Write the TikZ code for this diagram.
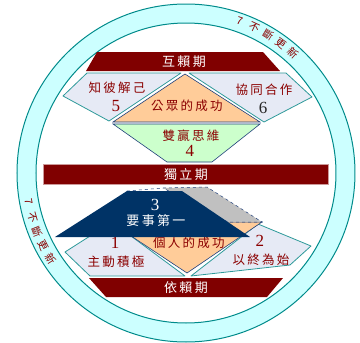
\documentclass[tikz,border=0pt]{standalone}
\usepackage{fontspec}
\setmainfont{Liberation Serif}
\newfontfamily\cjk[LetterSpace=18]{Noto Sans CJK TC}
\newfontfamily\cjkarc{Noto Sans CJK TC}
\usepackage{xcolor}
\definecolor{RINGFILL}{HTML}{CCFFFF}
\definecolor{RINGLINE}{HTML}{008B8B}
\definecolor{BANDCOLOR}{HTML}{800000}
\definecolor{PANEFILL}{HTML}{E6EAF5}
\definecolor{PANELINE}{HTML}{2E9A9A}
\definecolor{SUCCESSFILL}{HTML}{FFCC99}
\definecolor{WINFILL}{HTML}{CCFFCC}
\definecolor{EDGECOLOR}{HTML}{1F3F7A}
\definecolor{FIRSTCOLOR}{HTML}{003366}
\definecolor{GHOSTCOLOR}{HTML}{C0C0C0}
\definecolor{LABELCOLOR}{HTML}{8B0000}
\usetikzlibrary{positioning}
\tikzset{
  ring-style/.style = {
    draw=RINGLINE, fill=RINGFILL, line width=1pt, even odd rule
  },
  band-style/.style = {
    fill=BANDCOLOR
  },
  pane-style/.style = {
    draw=PANELINE, fill=PANEFILL, line width=0.8pt, line join=round
  },
  success-style/.style = {
    draw=EDGECOLOR, fill=SUCCESSFILL, line width=0.6pt
  },
  win-style/.style = {
    draw=EDGECOLOR, fill=WINFILL, line width=0.6pt
  },
  ghost-style/.style = {
    draw=EDGECOLOR, fill=GHOSTCOLOR, dashed, line width=0.5pt
  },
  first-style/.style = {
    fill=FIRSTCOLOR
  },
  band-text/.style = {
    text=white, inner sep=0pt, font=\cjk\fontsize{13}{13}\selectfont
  },
  label-text/.style = {
    text=#1, inner sep=0pt, font=\cjk\fontsize{12.5}{13}\selectfont
  },
  label-text/.default = LABELCOLOR,
  num-text/.style = {
    text=#1, inner sep=0pt, font=\fontsize{17}{17}\selectfont
  },
  num-text/.default = LABELCOLOR,
  arc-text/.style = {
    text=LABELCOLOR, inner sep=0pt, font=\cjkarc\fontsize{10.5}{11}\selectfont
  }
}
\newcommand\renewLetters{7,不,斷,更,新}

\begin{document}
\begin{tikzpicture}[x=1pt, y=-1pt]
  \useasboundingbox (0,0) rectangle (360,343);

  % ring
  \path[ring-style] (186,173) circle [radius=169]
                    (186,173) circle [radius=150];
  \foreach \ch [count=\i from 0] in \renewLetters {
    \pgfmathsetmacro\t{70.5-5.6*\i}
    \node[arc-text, rotate=\t-90] (renew-top-\i)
      at ({186+161*cos(\t)}, {173-161*sin(\t)}) {\ch};
  }
  \foreach \ch [count=\i from 0] in \renewLetters {
    \pgfmathsetmacro\t{190.5+5.5*\i}
    \node[arc-text, rotate=\t+90] (renew-left-\i)
      at ({186+160*cos(\t)}, {173-160*sin(\t)}) {\ch};
  }

  % upper half
  \fill[band-style] (97,52) -- (263,52) -- (280,71) -- (86,71) -- cycle;
  \node[band-text] (mutual) at (184,61.5) {互賴期};

  \draw[pane-style] (87,73) -- (181,73) -- (109,121) -- (63,96) -- cycle;
  \draw[pane-style] (189,73) -- (286,73) -- (312,97) -- (264,122) -- cycle;
  \draw[success-style] (185,74) -- (260,122) -- (113,122) -- cycle;
  \draw[win-style] (113,124) -- (260,124) -- (212,162) -- (167,162) -- cycle;

  \node[label-text] (know) at (117,88) {知彼解己};
  \node[num-text] (five) at (116,106) {5};
  \node[label-text] (synergy) at (264,90) {協同合作};
  \node[num-text=black!85] (six) at (263,108) {6};
  \node[label-text] (public) at (187,106) {公眾的成功};
  \node[label-text] (winwin) at (191,136) {雙贏思維};
  \node[num-text] (four) at (190,151) {4};

  % middle band
  \draw[band-style, draw=BANDCOLOR!40] (43,164) rectangle (328,184);
  \node[band-text] (independent) at (186,174.5) {獨立期};

  % lower half
  \draw[pane-style] (65,252) -- (112,222) -- (185,276) -- (90,276) -- cycle;
  \draw[pane-style] (258,224) -- (311,246) -- (290,265) -- (191,276) -- cycle;
  \draw[success-style] (110,222) -- (262,222) -- (187,273) -- cycle;
  \node[label-text] (private) at (189,243) {個人的成功};
  \node[num-text] (one) at (115,243) {1};
  \node[label-text] (proactive) at (116,262) {主動積極};
  \node[num-text] (two) at (260,241) {2};
  \node[label-text] (endmind) at (261,260) {以終為始};

  \draw[ghost-style] (163,188) -- (207,187) -- (262,222) -- (228,222) -- cycle;
  \draw[ghost-style, fill=none] (127,191) -- (163,188);
  \fill[first-style] (55,237) -- (127,191) -- (182,191) -- (250,237) -- cycle;
  \node[num-text=white] (three) at (155,205) {3};
  \node[band-text] (firstthings) at (156,221) {要事第一};

  \fill[band-style] (89,278) -- (283,278) -- (267,297) -- (106,297) -- cycle;
  \node[band-text] (dependent) at (186,287.5) {依賴期};
\end{tikzpicture}
\end{document}
